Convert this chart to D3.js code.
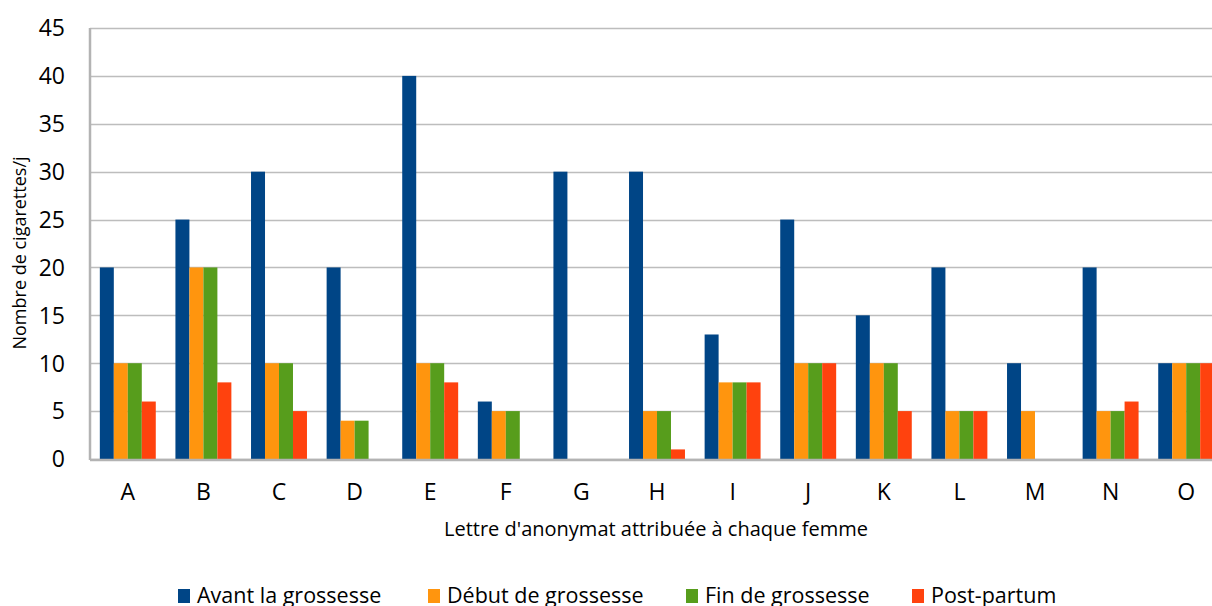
<!DOCTYPE html>
<html>
<head>
<meta charset="utf-8">
<script src="https://cdn.jsdelivr.net/npm/d3@7"></script>
<style>
  body { margin: 0; background: #fff; }
  text { font-family: "Open Sans", sans-serif; fill: #000; }
</style>
</head>
<body>
<div id="chart"></div>
<script>
// data
var femmes = ["A", "B", "C", "D", "E", "F", "G", "H", "I", "J", "K", "L", "M", "N", "O"];
var series = ["Avant la grossesse", "Début de grossesse", "Fin de grossesse", "Post-partum"];
var avant = [20, 25, 30, 20, 40, 6, 30, 30, 13, 25, 15, 20, 10, 20, 10];
var debut = [10, 20, 10, 4, 10, 5, 0, 5, 8, 10, 10, 5, 5, 5, 10];
var fin   = [10, 20, 10, 4, 10, 5, 0, 5, 8, 10, 10, 5, 0, 5, 10];
var post  = [6, 8, 5, 0, 8, 0, 0, 1, 8, 10, 5, 5, 0, 6, 10];
var yTicks = [0, 5, 10, 15, 20, 25, 30, 35, 40, 45];

var colors = ["#004586", "#ff950e", "#579d1c", "#ff420e"];

var W = 1212, H = 606;
var margin = {top: 28, left: 90};
var plotW = 1134, plotH = 431;

var svg = d3.select("#chart")
  .append("svg")
    .attr("width", W)
    .attr("height", H);

var g = svg.append("g")
  .attr("transform", "translate(" + margin.left + "," + margin.top + ")");

var x = d3.scaleBand()
  .domain(femmes)
  .range([0, plotW])
  .paddingInner(0.26)
  .paddingOuter(0.13);

var xs = d3.scaleBand()
  .domain(series)
  .range([0, x.bandwidth()]);

var y = d3.scaleLinear()
  .domain([0, 45])
  .range([plotH, 0]);

// gridlines
g.append("g")
  .selectAll("line")
  .data(yTicks)
  .enter()
  .append("line")
    .attr("x1", 0)
    .attr("x2", plotW)
    .attr("y1", function(d) { return Math.round(y(d)) + 0.5; })
    .attr("y2", function(d) { return Math.round(y(d)) + 0.5; })
    .style("stroke", "#bdbdbd")
    .style("stroke-width", 1.5);

// y tick labels
g.append("g")
  .selectAll("text")
  .data(yTicks)
  .enter()
  .append("text")
    .attr("x", -25)
    .attr("y", function(d) { return y(d); })
    .attr("dy", "0.36em")
    .attr("text-anchor", "end")
    .style("font-size", "23px")
    .text(function(d) { return d; });

// bars
var rows = femmes.map(function(f, i) {
  return {name: f, values: [avant[i], debut[i], fin[i], post[i]]};
});

var groups = g.append("g")
  .selectAll("g")
  .data(rows)
  .enter()
  .append("g")
    .attr("transform", function(d) { return "translate(" + x(d.name) + ",0)"; });

groups.selectAll("rect")
  .data(function(d) { return d.values.map(function(v, j) { return {s: series[j], v: v, j: j}; }); })
  .enter()
  .append("rect")
    .attr("x", function(d) { return xs(d.s); })
    .attr("width", xs.bandwidth())
    .attr("y", function(d) { return y(d.v); })
    .attr("height", function(d) { return plotH - y(d.v); })
    .style("fill", function(d) { return colors[d.j]; });

// axis lines
g.append("line")
  .attr("x1", 0).attr("x2", 0)
  .attr("y1", 0).attr("y2", plotH + 1)
  .style("stroke", "#b3b3b3")
  .style("stroke-width", 2.5);
g.append("line")
  .attr("x1", 0).attr("x2", plotW)
  .attr("y1", plotH + 1).attr("y2", plotH + 1)
  .style("stroke", "#b3b3b3")
  .style("stroke-width", 2.5);

// x labels
g.append("g")
  .selectAll("text")
  .data(femmes)
  .enter()
  .append("text")
    .attr("x", function(d) { return x(d) + x.bandwidth() / 2; })
    .attr("y", plotH + 41)
    .attr("text-anchor", "middle")
    .style("font-size", "23px")
    .text(function(d) { return d; });

// axis titles
svg.append("text")
  .attr("x", 656)
  .attr("y", 536)
  .attr("text-anchor", "middle")
  .style("font-size", "20px")
  .text("Lettre d'anonymat attribuée à chaque femme");

svg.append("text")
  .attr("transform", "translate(26,253) rotate(-90)")
  .attr("text-anchor", "middle")
  .style("font-size", "18px")
  .text("Nombre de cigarettes/j");

// legend
var legX = [178, 428, 686, 912];
var leg = svg.append("g")
  .selectAll("g")
  .data(series)
  .enter()
  .append("g")
    .attr("transform", function(d, i) { return "translate(" + legX[i] + ",0)"; });

leg.append("rect")
  .attr("x", 0)
  .attr("y", 589)
  .attr("width", 12)
  .attr("height", 14)
  .style("fill", function(d, i) { return colors[i]; });

leg.append("text")
  .attr("x", 19)
  .attr("y", 603)
  .style("font-size", "21.5px")
  .text(function(d) { return d; });
</script>
</body>
</html>
